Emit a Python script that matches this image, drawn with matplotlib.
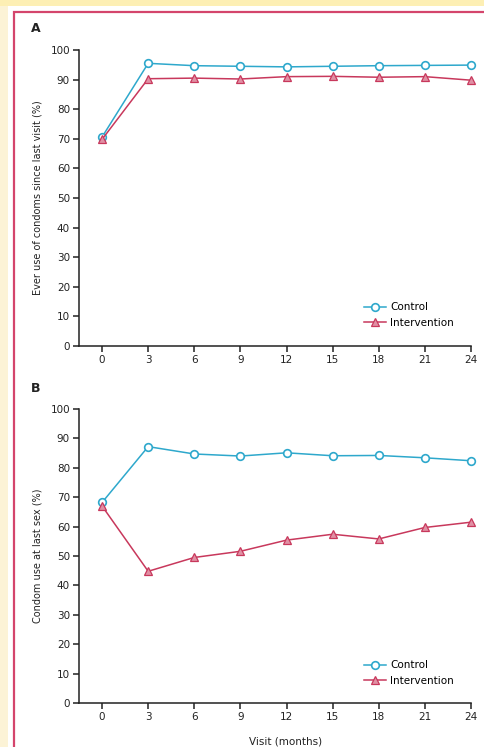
import numpy as np
import matplotlib.pyplot as plt
from matplotlib.patches import Rectangle

visits = [0, 3, 6, 9, 12, 15, 18, 21, 24]

# panel A: ever use of condoms since last visit (%)
ever_control = [70.6, 95.5, 94.7, 94.5, 94.3, 94.5, 94.7, 94.8, 94.9]
ever_interv = [69.8, 90.3, 90.5, 90.2, 91.0, 91.1, 90.8, 91.0, 89.8]

# panel B: condom use at last sex (%)
last_control = [68.2, 87.2, 84.7, 84.0, 85.1, 84.1, 84.2, 83.4, 82.4]
last_interv = [67.0, 44.8, 49.5, 51.6, 55.4, 57.4, 55.8, 59.7, 61.5]

yticks = list(range(0, 101, 10))
c_ctrl = '#2ea8cc'
c_int = '#c8385c'

plt.rcParams['font.family'] = ['DejaVu Sans']
plt.rcParams['font.size'] = 7.5

W, H = 485, 747
fig = plt.figure(figsize=(W/100, H/100), dpi=100)
fig.patch.set_facecolor('white')

# background strips and frame
fig.patches.append(Rectangle((0, 0), 8/W, 1, transform=fig.transFigure,
                             facecolor='#fcf3d6', edgecolor='none', zorder=0))
fig.patches.append(Rectangle((0, 1-6/H), 1, 6/H, transform=fig.transFigure,
                             facecolor='#fdefb4', edgecolor='none', zorder=0))
fig.patches.append(Rectangle((13.5/W, -0.1), 1.2, 1-12/H+0.1, transform=fig.transFigure,
                             facecolor='none', edgecolor='#d4456c', lw=1.6, zorder=1))


def panel(rect, ctrl, interv, ylabel, letter, lx, ly, leg_y):
    ax = fig.add_axes(rect)
    ax.plot(visits, ctrl, '-o', color=c_ctrl, lw=1.1, ms=5.5,
            mfc='white', mec=c_ctrl, mew=1.2, label='Control', clip_on=False, zorder=3)
    ax.plot(visits, interv, '-^', color=c_int, lw=1.1, ms=5.5,
            mfc='#e090a4', mec=c_int, mew=0.9, label='Intervention', clip_on=False, zorder=3)
    ax.set_xlim(-1.5, 24)
    ax.set_ylim(0, 100)
    ax.set_xticks(visits)
    ax.set_yticks(yticks)
    for s in ['top', 'right']:
        ax.spines[s].set_visible(False)
    for s in ['left', 'bottom']:
        ax.spines[s].set_linewidth(1.1)
        ax.spines[s].set_color('#222222')
    ax.tick_params(direction='out', length=4.5, width=1.1, color='#222222',
                   labelsize=7.5, labelcolor='#222222', pad=2)
    ax.set_ylabel(ylabel, fontsize=7, labelpad=6, color='#222222')
    ax.legend(loc='center left', bbox_to_anchor=(0.727, leg_y), frameon=False,
              fontsize=7.5, handlelength=2.1, handletextpad=0.4, labelspacing=0.55,
              borderaxespad=0, borderpad=0)
    fig.text(lx/W, 1-ly/H, letter, fontsize=9, fontweight='bold',
             ha='center', va='center', color='#222222')
    return ax


panel([79/W, 1-346/H, 392/W, 296/H], ever_control, ever_interv,
      'Ever use of condoms since last visit (%)', 'A', 36, 28, 0.104)
ax2 = panel([79/W, 1-703/H, 392/W, 294/H], last_control, last_interv,
            'Condom use at last sex (%)', 'B', 36, 388, 0.102)
fig.text(286/W, 1-736/H, 'Visit (months)', fontsize=7.5, ha='center', va='top',
         color='#222222')

fig.savefig('out.png', dpi=100)
